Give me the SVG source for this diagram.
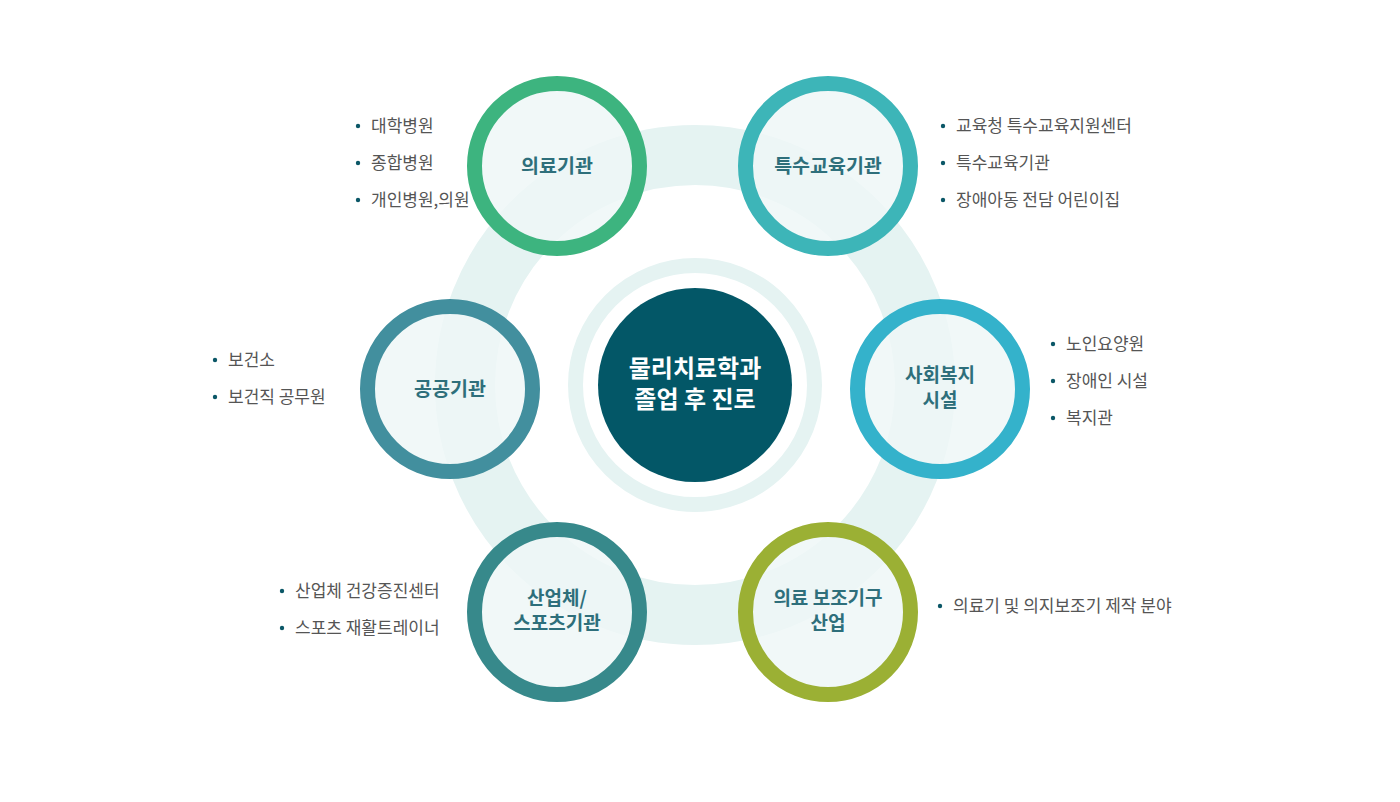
<svg xmlns="http://www.w3.org/2000/svg" width="1400" height="802" viewBox="0 0 1400 802">
<style>
.bg{fill:#ffffff}
.ring{fill:none;stroke:#e5f3f2}
.node-fill{fill:#eef7f7;fill-opacity:0.82}
.node{stroke-width:15}
.lbl{font-family:"Noto Sans CJK KR","Noto Sans",sans-serif;font-size:19.5px;font-weight:700;fill:#2e6f7b;text-anchor:middle}
.lbl2{font-size:19px}
.ctr{font-family:"Noto Sans CJK KR","Noto Sans",sans-serif;font-size:24px;font-weight:600;fill:#ffffff;text-anchor:middle}
.item{font-family:"Noto Sans CJK KR","Noto Sans",sans-serif;font-size:17px;fill:#555555}
.dot{fill:#0b5767}
</style>
<rect class="bg" x="0" y="0" width="1400" height="802"/>
<g id="background">
  <circle class="ring" cx="695" cy="385" r="230" stroke-width="60"/>
  <circle class="ring" cx="695" cy="385" r="119.5" stroke-width="15"/>
</g>
<g id="connectors"></g>
<g id="center">
  <circle cx="695" cy="385" r="97" fill="#035767"/>
  <text class="ctr" x="695" y="377"><tspan x="695" y="377">물리치료학과</tspan><tspan x="695" y="408">졸업 후 진로</tspan></text>
</g>
<g id="node-medical">
  <circle class="node-fill node" cx="557" cy="166" r="82.5" stroke="#3db47f"/>
  <text class="lbl" x="557" y="173">의료기관</text>
  <circle class="dot" cx="358" cy="126" r="2.2"/><text class="item" x="371" y="132">대학병원</text>
  <circle class="dot" cx="358" cy="163" r="2.2"/><text class="item" x="371" y="169">종합병원</text>
  <circle class="dot" cx="358" cy="200" r="2.2"/><text class="item" x="371" y="206">개인병원,의원</text>
</g>
<g id="node-special-edu">
  <circle class="node-fill node" cx="828" cy="166" r="82.5" stroke="#3db5b8"/>
  <text class="lbl" x="828" y="173">특수교육기관</text>
  <circle class="dot" cx="943" cy="126" r="2.2"/><text class="item" x="956" y="132">교육청 특수교육지원센터</text>
  <circle class="dot" cx="943" cy="163" r="2.2"/><text class="item" x="956" y="169">특수교육기관</text>
  <circle class="dot" cx="943" cy="200" r="2.2"/><text class="item" x="956" y="206">장애아동 전담 어린이집</text>
</g>
<g id="node-public">
  <circle class="node-fill node" cx="450" cy="389" r="82.5" stroke="#428f9e"/>
  <text class="lbl" x="450" y="396">공공기관</text>
  <circle class="dot" cx="215" cy="360" r="2.2"/><text class="item" x="228" y="366">보건소</text>
  <circle class="dot" cx="215" cy="397" r="2.2"/><text class="item" x="228" y="403">보건직 공무원</text>
</g>
<g id="node-welfare">
  <circle class="node-fill node" cx="940" cy="389" r="82.5" stroke="#34b2cb"/>
  <text class="lbl lbl2" x="940" y="382"><tspan x="940" y="382">사회복지</tspan><tspan x="940" y="407">시설</tspan></text>
  <circle class="dot" cx="1053" cy="344" r="2.2"/><text class="item" x="1066" y="350">노인요양원</text>
  <circle class="dot" cx="1053" cy="381" r="2.2"/><text class="item" x="1066" y="387">장애인 시설</text>
  <circle class="dot" cx="1053" cy="418" r="2.2"/><text class="item" x="1066" y="424">복지관</text>
</g>
<g id="node-industry">
  <circle class="node-fill node" cx="557" cy="612" r="82.5" stroke="#37898b"/>
  <text class="lbl lbl2" x="557" y="605"><tspan x="557" y="605">산업체/</tspan><tspan x="557" y="630">스포츠기관</tspan></text>
  <circle class="dot" cx="282" cy="591" r="2.2"/><text class="item" x="295" y="597">산업체 건강증진센터</text>
  <circle class="dot" cx="282" cy="628" r="2.2"/><text class="item" x="295" y="634">스포츠 재활트레이너</text>
</g>
<g id="node-assistive">
  <circle class="node-fill node" cx="828" cy="612" r="82.5" stroke="#9bb034"/>
  <text class="lbl lbl2" x="828" y="605"><tspan x="828" y="605">의료 보조기구</tspan><tspan x="828" y="630">산업</tspan></text>
  <circle class="dot" cx="940" cy="606" r="2.2"/><text class="item" x="953" y="612">의료기 및 의지보조기 제작 분야</text>
</g>
</svg>
